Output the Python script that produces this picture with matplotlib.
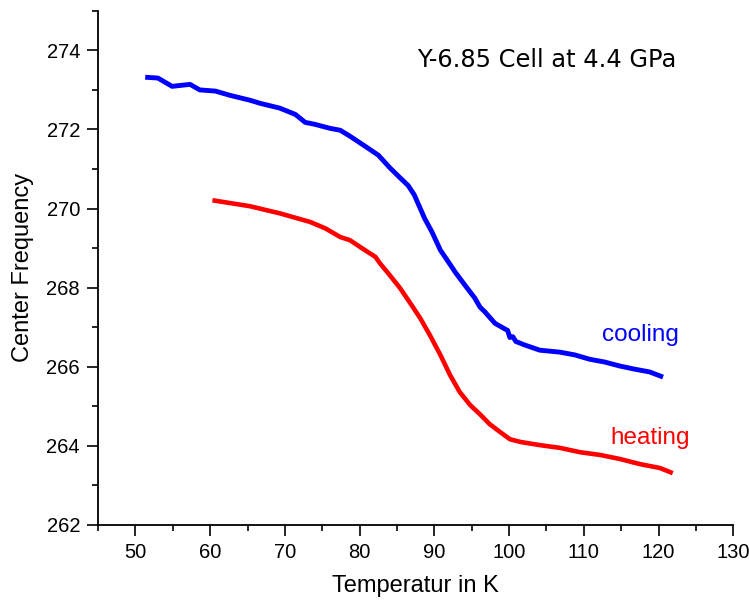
import matplotlib
matplotlib.use('Agg')
import matplotlib.pyplot as plt
from matplotlib.ticker import MultipleLocator

# cooling run
cool_t = [51.3, 53.0, 54.9, 57.3, 58.6, 60.7, 62.7, 65.3, 66.7, 69.3, 71.4, 72.7,
          74.0, 76.0, 77.4, 78.7, 80.7, 82.5, 84.1, 85.4, 86.5, 87.3, 88.0, 88.7,
          89.7, 90.8, 91.7, 92.8, 94.1, 95.4, 96.1, 96.8, 98.1, 99.4, 99.8, 100.1,
          100.5, 100.9, 102.1, 104.1, 106.8, 108.8, 110.8, 112.8, 114.8, 116.8,
          118.8, 120.6]
cool_f = [273.32, 273.30, 273.09, 273.14, 273.00, 272.97, 272.86, 272.74, 272.66,
          272.54, 272.38, 272.18, 272.13, 272.03, 271.98, 271.83, 271.58, 271.35,
          271.02, 270.78, 270.58, 270.35, 270.05, 269.75, 269.40, 268.95, 268.70,
          268.39, 268.06, 267.74, 267.51, 267.38, 267.10, 266.96, 266.92, 266.74,
          266.76, 266.64, 266.55, 266.42, 266.37, 266.30, 266.19, 266.12, 266.02,
          265.94, 265.87, 265.74]

# heating run
heat_t = [60.3, 65.3, 69.3, 73.4, 75.4, 77.4, 78.7, 80.7, 82.1, 82.7, 84.1, 85.4,
          86.7, 88.1, 89.4, 90.8, 92.1, 93.4, 94.8, 96.1, 97.4, 98.8, 100.1, 101.5,
          104.1, 106.8, 109.5, 112.2, 114.8, 117.5, 120.2, 121.9]
heat_f = [270.21, 270.06, 269.88, 269.66, 269.50, 269.28, 269.20, 268.95, 268.78,
          268.62, 268.30, 267.99, 267.63, 267.23, 266.80, 266.30, 265.79, 265.36,
          265.03, 264.80, 264.55, 264.35, 264.17, 264.10, 264.02, 263.95, 263.84,
          263.77, 263.67, 263.54, 263.44, 263.31]

plt.rcParams['font.family'] = ['Liberation Sans', 'DejaVu Sans']

fig = plt.figure(figsize=(7.49, 6.0), dpi=100)
ax = fig.add_axes([0.131, 0.125, 0.848, 0.857])

ax.plot(cool_t, cool_f, color='#0000ff', lw=3.5, solid_capstyle='butt')
ax.plot(heat_t, heat_f, color='#ff0000', lw=3.3, solid_capstyle='butt')

ax.set_xlim(45, 130)
ax.set_ylim(262, 275)
ax.xaxis.set_major_locator(MultipleLocator(10))
ax.xaxis.set_minor_locator(MultipleLocator(5))
ax.yaxis.set_major_locator(MultipleLocator(2))
ax.yaxis.set_minor_locator(MultipleLocator(1))

for s in ['top', 'right']:
    ax.spines[s].set_visible(False)
for s in ['left', 'bottom']:
    ax.spines[s].set_linewidth(1.3)
ax.tick_params(which='major', direction='out', length=8, width=1.2, labelsize=14.5, pad=5)
ax.tick_params(which='minor', direction='out', length=4.5, width=1.2)

ax.set_xlabel('Temperatur in K', fontsize=17, labelpad=9)
ax.set_ylabel('Center Frequency', fontsize=17, labelpad=9)

ax.text(0.707, 0.905, 'Y-6.85 Cell at 4.4 GPa', transform=ax.transAxes,
        fontsize=17.4, family='DejaVu Sans', ha='center', va='center')
ax.text(122.7, 266.8, 'cooling', color='#0000ff', fontsize=17.5, ha='right', va='center')
ax.text(124.2, 264.2, 'heating', color='#ff0000', fontsize=17.5, ha='right', va='center')

plt.savefig('out.png', dpi=100)
